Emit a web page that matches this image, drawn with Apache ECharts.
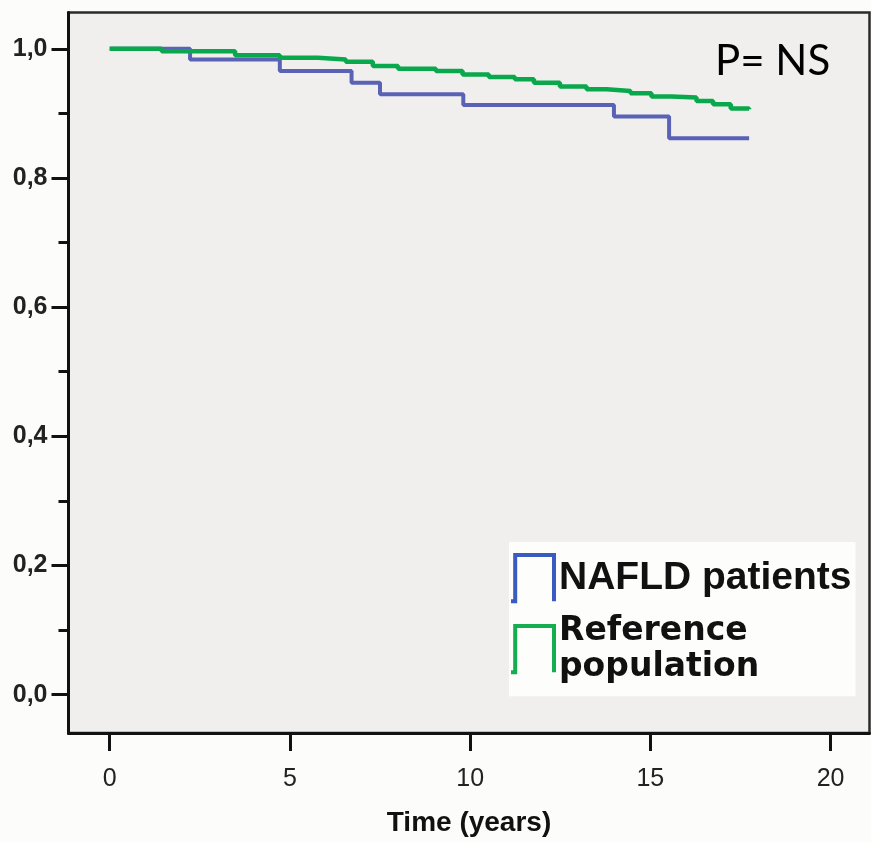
<!DOCTYPE html>
<html>
<head>
<meta charset="utf-8">
<script src="https://cdn.jsdelivr.net/npm/echarts@6/dist/echarts.min.js"></script>
<style>
  html, body { margin: 0; padding: 0; background: #fcfcfb; }
  #chart { width: 871px; height: 842px; }
</style>
</head>
<body>
<div id="chart"></div>
<script>
// Kaplan-Meier survival estimates: event times (years) and survival after each step
const nafldTime = [0, 2.23, 4.72, 6.71, 7.50, 9.81, 13.99, 15.52, 17.74];
const nafldSurv = [1.0, 0.9835, 0.9655, 0.9476, 0.9296, 0.9131, 0.8953, 0.8614, 0.8614];

const refTime = [0, 1.44, 3.48, 4.72, 5.78, 6.55, 7.30, 8.00, 9.05, 9.79, 10.52, 11.24, 11.77,
                 12.49, 13.23, 13.79, 14.45, 15.03, 15.59, 16.28, 16.74, 17.23, 17.74];
const refSurv = [1.0, 0.9963, 0.9901, 0.9861, 0.9835, 0.9800, 0.9732, 0.9692, 0.9655, 0.9604, 0.9563,
                 0.9527, 0.9476, 0.9415, 0.9373, 0.9347, 0.9311, 0.9261, 0.9245, 0.9193, 0.9142,
                 0.9076, 0.9065];

const seriesNames = ['NAFLD patients', 'Reference population'];
const xTicks = [0, 5, 10, 15, 20];
const yTicks = [0, 0.2, 0.4, 0.6, 0.8, 1.0];
const yMinorTicks = [0.1, 0.3, 0.5, 0.7, 0.9];
const pValueText = 'P= NS';
const xTitle = 'Time (years)';

const pairs = (xs, ys) => xs.map((x, i) => [x, ys[i]]);
const commaDecimal = v => v.toFixed(1).replace('.', ',');

const chart = echarts.init(document.getElementById('chart'), null, { renderer: 'canvas' });

// Step-shaped legend glyph: short foot, rise, top, drop
const stepIcon = 'path://M0,46 L4,46 L4,2 L41,2 L41,46';

const axisColor = '#111';
const labelFont = "'Liberation Sans', Arial, sans-serif";
const yMin = -0.0593;
const yMax = 1.0562;

chart.setOption({
  backgroundColor: '#fcfcfb',
  animation: false,
  title: {
    text: pValueText,
    left: 715,
    top: 40,
    padding: 0,
    textStyle: { fontFamily: 'Lato, sans-serif', fontSize: 42, fontWeight: 'normal', color: '#000' }
  },
  grid: {
    left: 68.5, right: 1.5, top: 12.5, bottom: 105.5,
    show: true,
    backgroundColor: '#f0efee',
    borderColor: '#2a2a2a',
    borderWidth: 2.5
  },
  legend: {
    orient: 'vertical',
    left: 509,
    top: 542,
    padding: [11, 4, 11, 0],
    itemGap: 10,
    itemWidth: 43,
    itemHeight: 47,
    backgroundColor: '#fdfdfc',
    icon: stepIcon,
    data: [
      {
        name: seriesNames[0],
        itemStyle: { color: 'transparent', borderColor: '#3a5bbf', borderWidth: 4 },
        textStyle: { fontFamily: labelFont, fontSize: 39, fontWeight: 'bold', color: '#111' }
      },
      {
        name: seriesNames[1],
        itemStyle: { color: 'transparent', borderColor: '#14ad50', borderWidth: 4 },
        textStyle: { fontFamily: "'DejaVu Sans', sans-serif", fontSize: 33, fontWeight: 'bold',
                     lineHeight: 36, color: '#111' }
      }
    ],
    formatter: name => name === seriesNames[1] ? 'Reference\npopulation' : name
  },
  xAxis: {
    type: 'value',
    min: -1.143,
    max: 21.08,
    axisLine: { show: true, onZero: false, lineStyle: { color: axisColor, width: 3 } },
    axisTick: { show: true, customValues: xTicks, length: 18, lineStyle: { color: axisColor, width: 3 } },
    axisLabel: {
      customValues: xTicks,
      margin: 34,
      fontFamily: labelFont, fontSize: 25, color: '#222'
    },
    splitLine: { show: false },
    name: xTitle,
    nameLocation: 'middle',
    nameGap: 76,
    nameTextStyle: { fontFamily: labelFont, fontSize: 28, fontWeight: 'bold', color: '#111' }
  },
  yAxis: [
    {
      type: 'value',
      min: yMin,
      max: yMax,
      axisLine: { show: true, onZero: false, lineStyle: { color: axisColor, width: 3 } },
      axisTick: { show: true, customValues: yTicks, length: 17, lineStyle: { color: axisColor, width: 3 } },
      axisLabel: {
        customValues: yTicks,
        margin: 21,
        formatter: commaDecimal,
        fontFamily: labelFont, fontSize: 25, fontWeight: 'bold', color: '#222'
      },
      splitLine: { show: false }
    },
    {
      type: 'value',
      position: 'left',
      min: yMin,
      max: yMax,
      axisLine: { show: false, onZero: false },
      axisTick: { show: true, customValues: yMinorTicks, length: 10, lineStyle: { color: axisColor, width: 3 } },
      axisLabel: { show: false },
      splitLine: { show: false }
    }
  ],
  series: [
    {
      name: seriesNames[0],
      type: 'line',
      step: 'end',
      data: pairs(nafldTime, nafldSurv),
      showSymbol: false,
      lineStyle: { color: '#5a62b6', width: 4 },
      itemStyle: { color: '#3a5bbf' },
      z: 2
    },
    {
      name: seriesNames[1],
      type: 'line',
      step: 'end',
      data: pairs(refTime, refSurv),
      showSymbol: false,
      lineStyle: { color: '#0aa84c', width: 4.5 },
      itemStyle: { color: '#14ad50' },
      z: 3
    }
  ]
});
</script>
</body>
</html>
